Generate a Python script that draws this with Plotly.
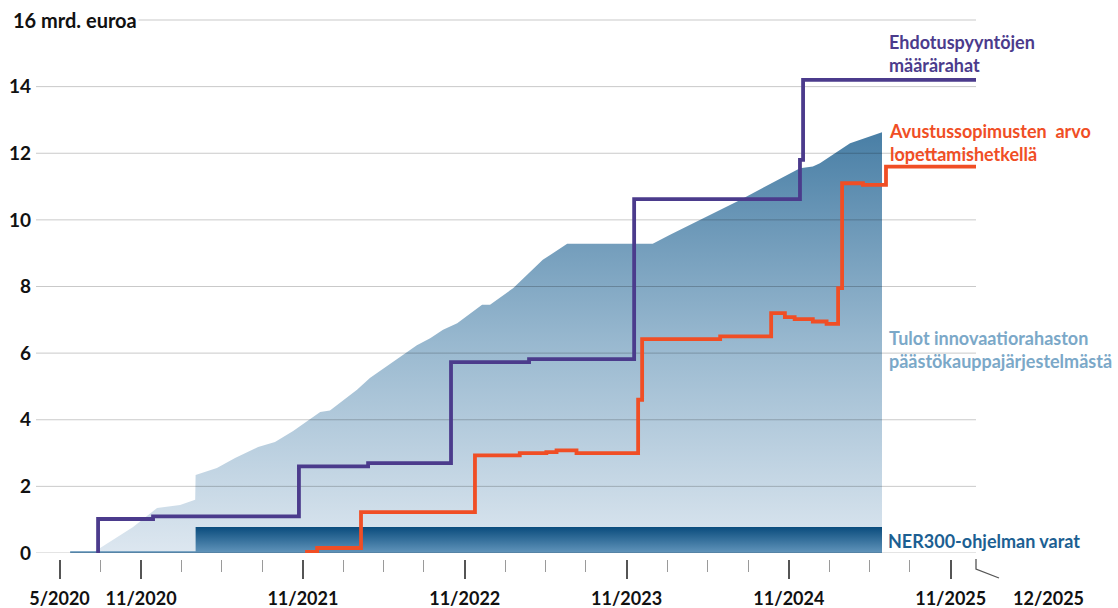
import plotly.graph_objects as go

FONT = "Lato, 'Open Sans', 'DejaVu Sans', sans-serif"

# --- Data (billion EUR) ---
# Tulot innovaatiorahaston päästökauppajärjestelmästä (cumulative income)
income_dates = ["2020-07-14", "2020-08-30", "2020-10-14", "2020-12-07", "2021-01-28",
                "2021-03-03", "2021-03-04", "2021-04-21", "2021-06-01", "2021-07-23",
                "2021-08-30", "2021-10-10", "2021-12-10", "2022-01-01", "2022-03-03",
                "2022-04-01", "2022-05-16", "2022-07-16", "2022-08-15", "2022-09-13",
                "2022-10-15", "2022-12-10", "2022-12-28", "2023-02-18", "2023-04-26",
                "2023-06-20", "2023-12-30", "2024-02-07", "2024-07-14", "2024-11-26",
                "2024-12-25", "2025-01-10", "2025-03-19", "2025-05-30"]
income_vals = [0.00, 0.40, 0.78, 1.35, 1.44,
               1.60, 2.34, 2.55, 2.85, 3.18,
               3.33, 3.66, 4.23, 4.28, 4.90,
               5.25, 5.68, 6.24, 6.45, 6.70,
               6.90, 7.45, 7.45, 7.95, 8.80,
               9.28, 9.28, 9.55, 10.60, 11.55,
               11.60, 11.70, 12.30, 12.63]

# NER300-ohjelman varat
ner_dates = ["2020-05-25", "2021-03-04", "2025-05-30"]
ner_vals = [0.05, 0.78, 0.78]

# Ehdotuspyyntöjen määrärahat (step line)
calls_dates = ["2020-07-27", "2020-07-27", "2020-11-28", "2021-10-23", "2022-03-28",
               "2022-10-01", "2023-03-26", "2023-11-18", "2024-11-26", "2024-12-03",
               "2025-12-30"]
calls_vals = [0.00, 1.02, 1.10, 2.60, 2.70,
              5.73, 5.82, 10.62, 11.80, 14.20,
              14.20]

# Avustussopimusten arvo lopettamishetkellä (step line)
grant_dates = ["2021-11-06", "2021-12-03", "2022-03-12", "2022-11-24", "2023-03-05",
               "2023-05-04", "2023-05-27", "2023-07-11", "2023-11-27", "2023-12-06",
               "2024-05-30", "2024-09-22", "2024-10-23", "2024-11-14", "2024-12-25",
               "2025-01-25", "2025-02-20", "2025-03-01", "2025-04-17", "2025-06-08",
               "2025-12-30"]
grant_vals = [0.03, 0.15, 1.23, 2.93, 3.00,
              3.03, 3.08, 3.00, 4.60, 6.42,
              6.50, 7.20, 7.08, 7.02, 6.95,
              6.88, 7.95, 11.10, 11.05, 11.60,
              11.60]

# Axis labels
x_major_vals = ["2020-05-01", "2020-11-01", "2021-11-01", "2022-11-01",
                "2023-11-01", "2024-11-01", "2025-11-01"]
x_major_text = ["5/2020", "11/2020", "11/2021", "11/2022",
                "11/2023", "11/2024", "11/2025"]
x_end_label = "12/2025"
y_tick_vals = [0, 2, 4, 6, 8, 10, 12, 14]
grid_vals = [0, 2, 4, 6, 8, 10, 12, 14, 16]
y_unit_label = "16 mrd. euroa"

X_RANGE = ["2020-03-09", "2025-12-28"]

# minor (quarterly) ticks
minor_vals = []
for yr in range(2020, 2026):
    for m in (2, 5, 8, 11):
        s = f"{yr}-{m:02d}-01"
        if "2020-05-01" <= s <= "2025-11-01" and s not in x_major_vals:
            minor_vals.append(s)

fig = go.Figure()

# income area with vertical gradient
fig.add_trace(go.Scatter(
    x=income_dates, y=income_vals, mode="lines", line=dict(width=0),
    fill="tozeroy",
    fillgradient=dict(type="vertical", start=0, stop=12.7,
                      colorscale=[[0, "#dde7f0"], [0.5, "#98b8cf"], [1, "#487ea5"]]),
    hoverinfo="skip", showlegend=False))

# NER300 block
fig.add_trace(go.Scatter(
    x=ner_dates, y=ner_vals, mode="lines", line=dict(width=0, shape="hv"),
    fill="tozeroy",
    fillgradient=dict(type="vertical", start=0, stop=0.78,
                      colorscale=[[0, "#6295bb"], [1, "#0a4c7d"]]),
    hoverinfo="skip", showlegend=False))

# gridlines (drawn above the areas, below the lines)
for g in grid_vals:
    fig.add_trace(go.Scatter(
        x=X_RANGE, y=[g, g], mode="lines",
        line=dict(color="rgba(0,0,0,0.21)", width=1),
        hoverinfo="skip", showlegend=False))

fig.add_trace(go.Scatter(
    x=calls_dates, y=calls_vals, mode="lines",
    line=dict(color="#4b3b8c", width=3.8, shape="hv"),
    hoverinfo="skip", showlegend=False))

fig.add_trace(go.Scatter(
    x=grant_dates, y=grant_vals, mode="lines",
    line=dict(color="#f04e25", width=3.8, shape="hv"),
    hoverinfo="skip", showlegend=False))

W, H = 1118, 608
ML, MR, MT, MB = 36, 142, 17, 49
plot_h = H - MT - MB
plot_w = W - ML - MR
dom0 = 6 / plot_h


def px_x(px):
    return (px - ML) / plot_w


def px_y(py):
    return (H - MB - py) / plot_h


fig.update_layout(
    width=W, height=H,
    margin=dict(l=ML, r=MR, t=MT, b=MB, autoexpand=False),
    paper_bgcolor="white", plot_bgcolor="white",
    font=dict(family=FONT, color="#111111"),
    showlegend=False,
    xaxis=dict(
        type="date", range=X_RANGE,
        tickmode="array", tickvals=x_major_vals,
        ticktext=[f"<b>{t}</b>" for t in x_major_text],
        tickfont=dict(size=18, family=FONT, color="#111111"),
        ticks="outside", ticklen=19, tickwidth=1.5, tickcolor="#555555",
        minor=dict(tickmode="array", tickvals=minor_vals, ticks="outside",
                   ticklen=12, tickwidth=1, tickcolor="#9a9a9a", showgrid=False),
        showgrid=False, showline=False, zeroline=False,
        anchor="free", position=0, ticklabelstandoff=4, automargin=False,
    ),
    yaxis=dict(
        domain=[dom0, 1], range=[0, 16.09],
        tickmode="array", tickvals=y_tick_vals,
        ticktext=[f"<b>{v}</b>" for v in y_tick_vals],
        tickfont=dict(size=19, family=FONT, color="#111111"),
        ticks="", showgrid=False, showline=False, zeroline=False,
        ticklabelstandoff=4, automargin=False,
    ),
)

bold = lambda s: f"<b>{s}</b>"

annotations = [
    dict(text=bold(y_unit_label), xref="paper", yref="y", x=px_x(11), y=16,
         xanchor="left", yanchor="middle", showarrow=False, bgcolor="white",
         borderpad=1, font=dict(size=20, family=FONT, color="#111111")),
    dict(text=bold("Ehdotuspyyntöjen<br>määrärahat"), xref="paper", yref="y",
         x=px_x(887), y=14.98, xanchor="left", yanchor="middle", align="left",
         showarrow=False, font=dict(size=18, family=FONT, color="#4b3b8c")),
    dict(text=bold("Avustussopimusten  arvo<br>lopettamishetkellä"), xref="paper", yref="y",
         x=px_x(887), y=12.32, xanchor="left", yanchor="middle", align="left",
         showarrow=False, font=dict(size=18, family=FONT, color="#f04e25")),
    dict(text=bold("Tulot innovaatiorahaston<br>päästökauppajärjestelmästä"), xref="paper", yref="y",
         x=px_x(887), y=6.12, xanchor="left", yanchor="middle", align="left",
         showarrow=False, font=dict(size=18, family=FONT, color="#7ba8c8")),
    dict(text=bold("NER300-ohjelman varat"), xref="paper", yref="y",
         x=px_x(886), y=0.36, xanchor="left", yanchor="middle", align="left",
         showarrow=False, font=dict(size=18, family=FONT, color="#1c5f92")),
    dict(text=bold(x_end_label), xref="paper", yref="paper",
         x=px_x(1048), y=px_y(598), xanchor="center", yanchor="middle",
         showarrow=False, font=dict(size=18, family=FONT, color="#111111")),
]
fig.update_layout(annotations=annotations)

# slanted end tick pointing to the 12/2025 label
fig.add_shape(type="path", xref="paper", yref="paper",
              path=f"M {px_x(976)} {px_y(559)} L {px_x(976)} {px_y(569)} L {px_x(999)} {px_y(578)}",
              line=dict(color="#555555", width=1.3))

fig.write_html("out.html", config={"displayModeBar": False},
               post_script="document.body.style.margin='0';document.body.style.overflow='hidden';")
